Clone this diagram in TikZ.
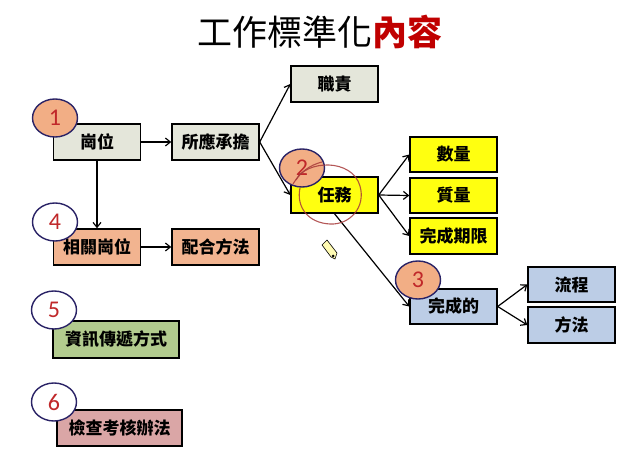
\documentclass[tikz,border=0pt]{standalone}
\usepackage{fontspec}
\setmainfont{Noto Sans CJK TC}
\newfontfamily\numfont{Carlito}
\usepackage{xcolor}
\usepackage{tikz}
\usetikzlibrary{arrows.meta, shapes.geometric}
\definecolor{boxgray}{HTML}{E4E6DA}
\definecolor{boxsalmon}{HTML}{F2B490}
\definecolor{boxyellow}{HTML}{FFFF10}
\definecolor{boxblue}{HTML}{BCCDE6}
\definecolor{boxgreen}{HTML}{B2CB8E}
\definecolor{boxpink}{HTML}{DAA6A6}
\definecolor{numfill}{HTML}{F2AE85}
\definecolor{numline}{HTML}{2A2366}
\definecolor{numred}{HTML}{C0282A}
\definecolor{titlered}{HTML}{C00000}
\definecolor{penred}{HTML}{A83A3A}

\begin{document}
\begin{tikzpicture}[x=1pt, y=-1pt,
  box/.style={draw, line width=1.4pt, inner sep=0pt, minimum width=87pt, minimum height=36pt,
    font=\bfseries\fontsize{17}{17}\selectfont},
  numc/.style={ellipse, draw=numline, line width=1.4pt, inner sep=0pt, minimum width=45pt,
    minimum height=38pt, font=\numfont\fontsize{24}{24}\selectfont, text=numred},
  link/.style={-{Straight Barb[length=5pt, width=8pt]}, line width=1.2pt}]
\useasboundingbox (0,0) rectangle (640,471);
\fill [white] (0,0) rectangle (640,471);
\node (title) at (320,32) {\fontsize{35}{35}\selectfont 工作標準化{\bfseries\color{titlered}內容}};
\node [box, fill=boxgray] (gangwei) at (97,142) {崗位};
\node [box, fill=boxgray] (suoying) at (215.5,142) {所應承擔};
\node [box, fill=boxgray] (zhize) at (334.5,84) {職責};
\node [box, fill=boxyellow] (renwu) at (334.5,195) {任務};
\node [box, fill=boxyellow, minimum height=35pt] (shuliang) at (453.5,154.5) {數量};
\node [box, fill=boxyellow, minimum height=35pt] (zhiliang) at (453.5,195.5) {質量};
\node [box, fill=boxyellow] (qixian) at (453.5,236) {完成期限};
\node [box, fill=boxblue, minimum height=35pt] (wancheng) at (453.5,306.5) {完成的};
\node [box, fill=boxblue, minimum height=35pt] (liucheng) at (571.5,284.5) {流程};
\node [box, fill=boxblue] (fangfa) at (571.5,325) {方法};
\node [box, fill=boxsalmon] (xiangguan) at (97,247) {相關崗位};
\node [box, fill=boxsalmon] (peihe) at (215.5,247) {配合方法};
\node [box, fill=boxgreen, minimum width=126pt, minimum height=37pt] (zixun) at (116,339.5) {資訊傳遞方式};
\node [box, fill=boxpink, minimum width=125pt] (jiancha) at (119.5,428) {檢查考核辦法};
\draw [link] (gangwei) -- (suoying);
\draw [link] (gangwei) -- (xiangguan);
\draw [link] (xiangguan) -- (peihe);
\draw [link] (suoying.east) -- (zhize.west);
\draw [link] (suoying.east) -- (renwu.west);
\draw [link] (renwu.east) -- (shuliang.west);
\draw [link] (renwu.east) -- (zhiliang.west);
\draw [link] (renwu.east) -- (qixian.west);
\draw [link] (renwu.south) -- (wancheng.west);
\draw [link] (wancheng.east) -- (liucheng.west);
\draw [link] (wancheng.east) -- (fangfa.west);
\node [numc, fill=numfill] (n1) at (55,118) {1};
\node [numc, fill=numfill] (n2) at (302,168) {2};
\node [numc, fill=numfill] (n3) at (418,280) {3};
\node [numc, fill=white] (n4) at (55,222) {4};
\node [numc, fill=white] (n5) at (54,310) {5};
\node [numc, fill=white] (n6) at (54,402) {6};
\draw [penred, line width=1.1pt, opacity=0.85] (296,180) .. controls (306,160) and (352,158) .. (360,186)
  .. controls (366,207) and (350,225) .. (330,224) .. controls (308,223) and (296,207) .. (300,188);
\draw [penred, line width=1.1pt, opacity=0.85] (293,184) .. controls (300,172) and (310,165) .. (322,162);
\draw [fill=yellow!30, line width=0.6pt] (322,245) -- (327,240) -- (337,253) -- (335,259) -- (331,257) -- cycle;
\fill (333,256) circle (1.5pt);
\end{tikzpicture}
\end{document}
